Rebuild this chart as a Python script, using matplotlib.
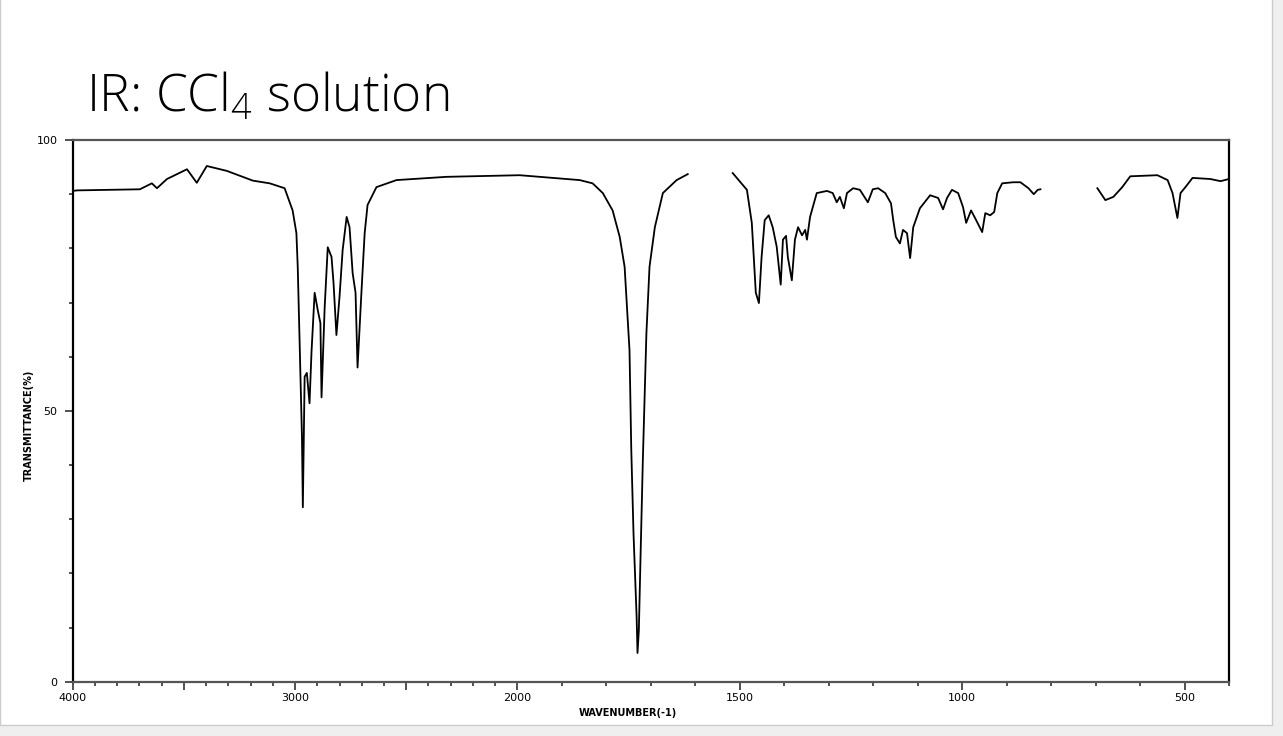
import numpy as np
import matplotlib
matplotlib.use("Agg")
import matplotlib.pyplot as plt
from matplotlib.patches import Rectangle
from matplotlib.ticker import FixedLocator, FixedFormatter

# spectrum; three pieces (gaps where solvent blanks out)
seg1_wn = [4000, 3980, 3698, 3644, 3621, 3576, 3486, 3442, 3397, 3307, 3190, 3114,
           3047, 3011, 2994, 2988, 2979, 2969, 2965, 2957, 2947, 2935, 2926, 2912,
           2898, 2886, 2881, 2867, 2853, 2836, 2827, 2814, 2800, 2786, 2768, 2755,
           2741, 2728, 2719, 2701, 2687, 2674, 2634, 2544, 2319, 1995, 1860, 1831,
           1808, 1786, 1770, 1759, 1748, 1744, 1739, 1732, 1730, 1727, 1723, 1718,
           1710, 1703, 1691, 1673, 1642, 1617]
seg1_t = [90.6, 90.7, 90.9, 92.0, 91.1, 92.8, 94.6, 92.1, 95.2, 94.3, 92.5, 92.0,
          91.1, 87.0, 82.8, 76.6, 61.8, 45.2, 32.2, 56.3, 57.0, 51.4, 60.9, 71.8,
          68.6, 66.2, 52.5, 69.0, 80.2, 78.4, 73.6, 64.0, 71.1, 79.7, 85.8, 83.9,
          75.4, 71.8, 58.0, 72.3, 82.8, 88.0, 91.3, 92.6, 93.2, 93.5, 92.6, 92.0,
          90.2, 87.0, 82.1, 76.6, 61.2, 42.8, 27.4, 12.0, 5.3, 9.5, 23.7, 40.9,
          64.3, 76.6, 83.9, 90.2, 92.6, 93.7]

seg2_wn = [1516, 1484, 1473, 1464, 1457, 1451, 1444, 1435, 1426, 1417, 1408, 1403,
           1396, 1392, 1383, 1376, 1369, 1360, 1353, 1349, 1342, 1327, 1304, 1291,
           1282, 1275, 1266, 1259, 1245, 1230, 1212, 1201, 1189, 1173, 1160, 1155,
           1149, 1140, 1133, 1124, 1117, 1110, 1095, 1072, 1054, 1043, 1034, 1023,
           1009, 998, 991, 980, 971, 955, 948, 937, 928, 921, 910, 885, 869, 851,
           839, 830, 824]
seg2_t = [93.9, 90.8, 84.7, 71.8, 69.9, 78.4, 85.2, 86.1, 83.9, 80.3, 73.3, 81.6,
          82.3, 78.4, 74.1, 81.6, 83.9, 82.4, 83.4, 81.6, 85.8, 90.2, 90.6, 90.2,
          88.5, 89.5, 87.4, 90.2, 91.1, 90.8, 88.5, 90.9, 91.1, 90.2, 88.3, 85.2,
          82.1, 80.9, 83.4, 82.8, 78.2, 83.9, 87.4, 89.8, 89.3, 87.2, 89.3, 90.8,
          90.2, 87.6, 84.7, 87.0, 85.6, 83.0, 86.5, 86.1, 86.7, 90.2, 92.0, 92.2,
          92.2, 91.1, 90.0, 90.8, 90.9]

seg3_wn = [696, 678, 660, 640, 622, 561, 538, 527, 516, 509, 498, 482, 442, 419, 400]
seg3_t = [91.1, 88.9, 89.5, 91.3, 93.3, 93.5, 92.6, 90.2, 85.6, 90.2, 91.3, 93.0,
          92.8, 92.4, 92.8]

x_major = [4000, 3500, 3000, 2500, 2000, 1500, 1000, 500]
x_labels = ["4000", "", "3000", "", "2000", "1500", "1000", "500"]
y_major = [0, 50, 100]
y_labels = ["0", "50", "100"]


# chart paper: 4000-2000 drawn at half the scale of 2000-400
def fwd(x):
    x = np.asarray(x, dtype=float)
    return np.where(x > 2000, 2000 + (x - 2000) / 2.0, x)


def inv(u):
    u = np.asarray(u, dtype=float)
    return np.where(u > 2000, 2000 + (u - 2000) * 2.0, u)


plt.rcParams['mathtext.default'] = 'regular'

fig = plt.figure(figsize=(12.83, 7.36), dpi=100, facecolor='#efefef')
fig.patches.append(Rectangle((0, 1 - 725 / 736), 1272 / 1283, 725 / 736 + 0.01,
                             transform=fig.transFigure, facecolor='white',
                             edgecolor='#cccccc', linewidth=1.0, zorder=-5))

ax = fig.add_axes([72.7 / 1283, 1 - 681.7 / 736, (1229 - 72.7) / 1283, (681.7 - 140) / 736])
ax.set_zorder(2)
ax.patch.set_alpha(0)
ax.set_xscale('function', functions=(fwd, inv))
ax.set_xlim(4000, 400)
ax.set_ylim(0, 100)

for wn, t in [(seg1_wn, seg1_t), (seg2_wn, seg2_t), (seg3_wn, seg3_t)]:
    ax.plot(wn, t, color='black', linewidth=1.3)

ax.xaxis.set_major_locator(FixedLocator(x_major))
ax.xaxis.set_major_formatter(FixedFormatter(x_labels))
ax.xaxis.set_minor_locator(FixedLocator([v for v in range(400, 4000, 100) if v % 500]))
ax.yaxis.set_major_locator(FixedLocator(y_major))
ax.yaxis.set_major_formatter(FixedFormatter(y_labels))
ax.yaxis.set_minor_locator(FixedLocator([v for v in range(10, 100, 10) if v != 50]))

ax.tick_params(which='major', direction='out', length=6, width=1.2, color='#333333',
               labelsize=8, pad=2)
ax.tick_params(which='minor', direction='out', length=3, width=1.2, color='#333333')
ax.tick_params(axis='y', which='major', pad=5)

for side in ['left', 'right']:
    ax.spines[side].set_color('black')
    ax.spines[side].set_linewidth(1.6)
for side in ['top', 'bottom']:
    ax.spines[side].set_color('#555555')
    ax.spines[side].set_linewidth(1.6)

fig.text(628 / 1283, 1 - 713 / 736, "WAVENUMBER(-1)", ha='center', va='center',
         fontsize=7, fontweight='bold')
fig.text(29 / 1283, 1 - 425 / 736, "TRANSMITTANCE(%)", ha='center', va='center',
         rotation=90, fontsize=7, fontweight='bold')

fig.text(86 / 1283, 1 - 112 / 736, r"IR: CCl$_4$ solution", ha='left', va='baseline',
         fontsize=37, family=['Open Sans', 'DejaVu Sans'], fontweight='light')

fig.savefig("out.png", dpi=100, facecolor=fig.get_facecolor())
